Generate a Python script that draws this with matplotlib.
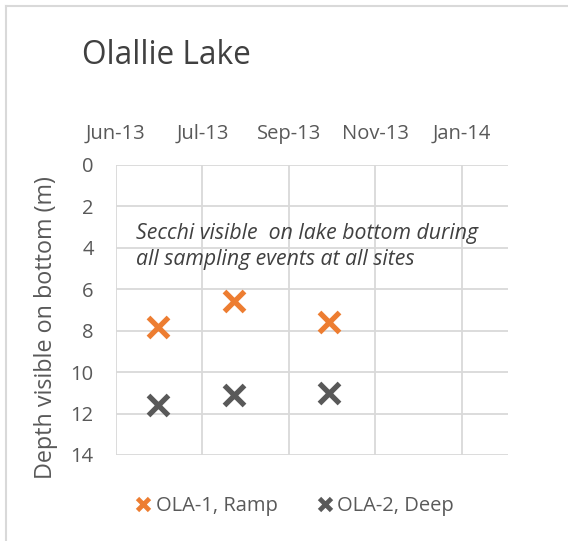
import datetime as dt
import matplotlib
matplotlib.use("Agg")
import matplotlib.pyplot as plt
import matplotlib.dates as mdates
from matplotlib.lines import Line2D

# sampling dates
dates = [dt.date(2013, 6, 30), dt.date(2013, 8, 22), dt.date(2013, 10, 27)]
ramp_depth = [7.8, 6.55, 7.6]   # OLA-1, Ramp
deep_depth = [11.6, 11.1, 11.0]  # OLA-2, Deep

series_names = ["OLA-1, Ramp", "OLA-2, Deep"]
tick_dates = [dt.date(2013, 6, 1) + dt.timedelta(days=60 * i) for i in range(5)]
y_ticks = [0, 2, 4, 6, 8, 10, 12, 14]

orange = "#ED7D31"
dark = "#595959"
grid_c = "#D9D9D9"
txt_c = "#595959"

plt.rcParams['font.family'] = ['Open Sans', 'DejaVu Sans']

fig = plt.figure(figsize=(5.68, 5.41), dpi=100)
ax = fig.add_axes([116 / 568, 1 - 455 / 541, (508 - 116) / 568, (455 - 165) / 541])

ax.plot(dates, ramp_depth, linestyle='none', marker='x', markersize=15,
        markeredgewidth=3.8, color=orange, label=series_names[0], clip_on=False)
ax.plot(dates, deep_depth, linestyle='none', marker='x', markersize=15,
        markeredgewidth=3.8, color=dark, label=series_names[1], clip_on=False)

ax.set_ylim(14, 0)
ax.set_yticks(y_ticks)
ax.set_xlim(tick_dates[0], dt.date(2014, 2, 28))
ax.set_xticks(tick_dates)
ax.xaxis.set_major_formatter(mdates.DateFormatter('%b-%y'))
ax.xaxis.tick_top()
ax.tick_params(axis='both', length=0, labelsize=14.5, colors=txt_c)
ax.tick_params(axis='x', pad=15)
ax.tick_params(axis='y', pad=16)

ax.grid(True, color=grid_c, linewidth=1.3)
ax.set_axisbelow(True)
for s in ax.spines.values():
    s.set_visible(False)

ax.set_ylabel("Depth visible on bottom (m)", fontsize=16.8, color=txt_c)
ax.yaxis.set_label_coords(-0.148, 0.44)

ax.text(dt.date(2013, 6, 15), 3.95, "Secchi visible  on lake bottom during\nall sampling events at all sites",
        fontsize=15.3, style='italic', color="#404040", va='center', ha='left', linespacing=1.32)

fig.text(82 / 568, 1 - 56 / 541, "Olallie Lake", fontsize=22.8, color="#404040", va='center', ha='left')

handles = [Line2D([], [], linestyle='none', marker='x', markersize=9, markeredgewidth=3.4, color=c)
           for c in (orange, dark)]
fig.legend(handles, series_names, loc='center', bbox_to_anchor=(295 / 568, 1 - 506 / 541),
           ncol=2, frameon=False, fontsize=14.5, labelcolor=txt_c, handlelength=0.7,
           handletextpad=0.25, columnspacing=2.0)

# chart outer border (only left and top edges show)
fig.add_artist(Line2D([6 / 568, 6 / 568], [0, 1 - 6 / 541], color=grid_c, linewidth=1.5))
fig.add_artist(Line2D([6 / 568, 1], [1 - 6 / 541, 1 - 6 / 541], color=grid_c, linewidth=1.5))

fig.savefig("out.png", dpi=100)
